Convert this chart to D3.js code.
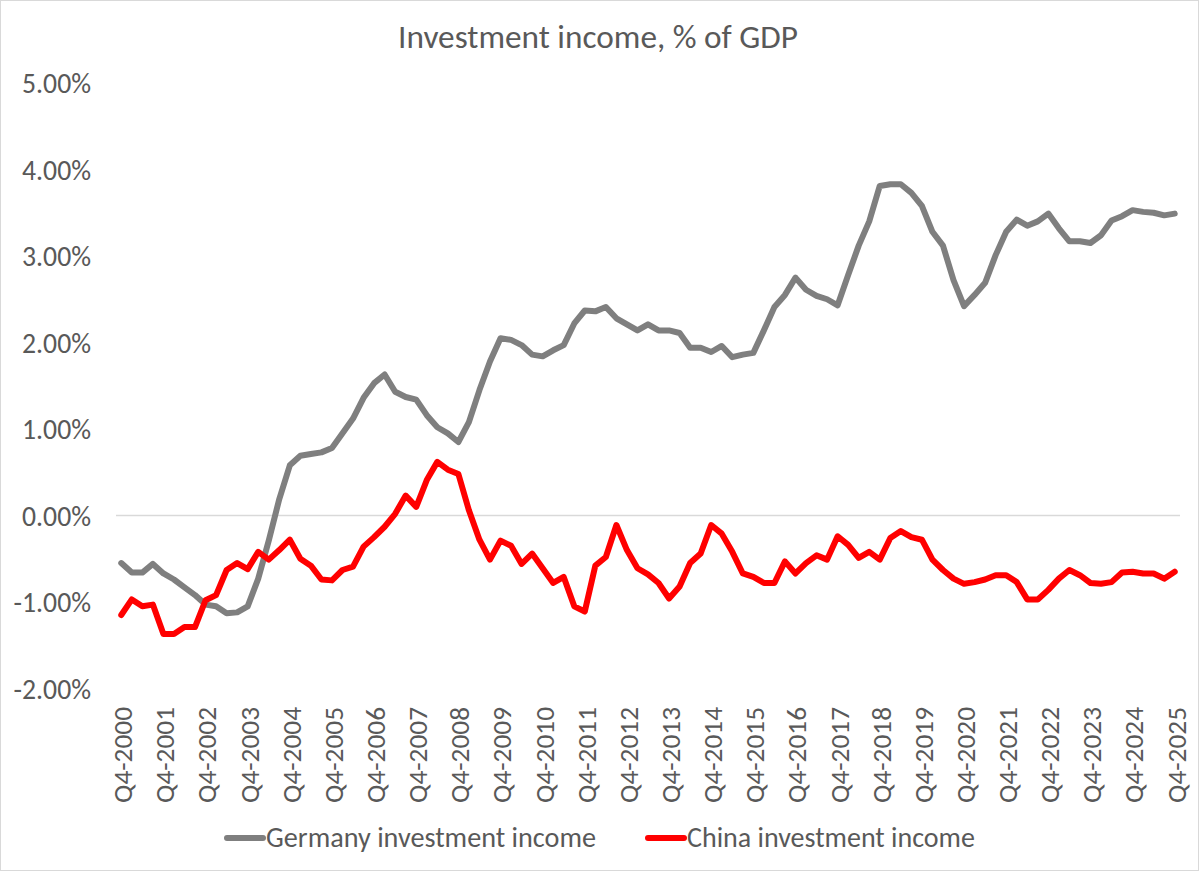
<!DOCTYPE html>
<html>
<head>
<meta charset="utf-8">
<script src="https://cdn.jsdelivr.net/npm/d3@7/dist/d3.min.js"></script>
<style>
  html, body { margin: 0; padding: 0; background: #fff; }
  svg { display: block; }
  text { font-family: Carlito, Calibri, Lato, sans-serif; fill: #595959; }
</style>
</head>
<body>
<svg id="chart" width="1200" height="872"></svg>
<script>
// ---- Data ----
const titleText = "Investment income, % of GDP";
const seriesNames = ["Germany investment income", "China investment income"];
const seriesColors = ["#7f7f7f", "#ff0000"];

// Quarterly categories Q4-2000 ... Q4-2025
const categories = [];
for (let yr = 2000; yr <= 2025; yr++) {
  for (let q = 1; q <= 4; q++) {
    if (yr === 2000 && q < 4) continue;
    categories.push("Q" + q + "-" + yr);
  }
}
const tickLabels = categories.filter(c => c.startsWith("Q4-"));
const yTicks = [-2, -1, 0, 1, 2, 3, 4, 5];

// Values in % of GDP
const germany = [
  -0.55, -0.66, -0.66, -0.56, -0.67, -0.74, -0.83, -0.92, -1.03, -1.05,
  -1.13, -1.12, -1.05, -0.73, -0.29, 0.19, 0.58, 0.69, 0.71, 0.73,
  0.78, 0.95, 1.12, 1.36, 1.53, 1.63, 1.43, 1.37, 1.34, 1.16,
  1.02, 0.95, 0.85, 1.08, 1.45, 1.78, 2.05, 2.03, 1.97, 1.86,
  1.84, 1.91, 1.97, 2.22, 2.37, 2.36, 2.41, 2.28, 2.21, 2.14,
  2.21, 2.14, 2.14, 2.11, 1.94, 1.94, 1.89, 1.96, 1.83, 1.86,
  1.88, 2.14, 2.41, 2.55, 2.75, 2.61, 2.54, 2.50, 2.43, 2.78,
  3.12, 3.40, 3.81, 3.83, 3.83, 3.73, 3.58, 3.28, 3.12, 2.72,
  2.42, 2.55, 2.69, 3.01, 3.28, 3.42, 3.35, 3.40, 3.49, 3.32,
  3.17, 3.17, 3.15, 3.24, 3.41, 3.46, 3.53, 3.51, 3.50, 3.47,
  3.49
];
const china = [
  -1.15, -0.97, -1.05, -1.03, -1.37, -1.37, -1.29, -1.29, -0.98, -0.92,
  -0.63, -0.55, -0.62, -0.42, -0.51, -0.40, -0.28, -0.50, -0.58, -0.74,
  -0.75, -0.63, -0.59, -0.36, -0.25, -0.13, 0.02, 0.23, 0.10, 0.41,
  0.62, 0.53, 0.48, 0.06, -0.28, -0.51, -0.29, -0.35, -0.56, -0.44,
  -0.61, -0.78, -0.71, -1.05, -1.11, -0.58, -0.48, -0.11, -0.40, -0.61,
  -0.68, -0.78, -0.96, -0.82, -0.55, -0.44, -0.11, -0.21, -0.42, -0.67,
  -0.71, -0.78, -0.78, -0.53, -0.67, -0.55, -0.46, -0.51, -0.24, -0.34,
  -0.49, -0.42, -0.51, -0.26, -0.18, -0.25, -0.28, -0.51, -0.63, -0.73,
  -0.79, -0.77, -0.74, -0.69, -0.69, -0.77, -0.97, -0.97, -0.86, -0.73,
  -0.63, -0.69, -0.78, -0.79, -0.77, -0.66, -0.65, -0.67, -0.67, -0.73,
  -0.65
];
const seriesValues = [germany, china];

// ---- Layout ----
const svg = d3.select("#chart");
const W = 1200, H = 872;
const plot = { left: 116, right: 1180, top: 83, bottom: 688.5 };

svg.append("rect")
  .attr("x", 0.5).attr("y", 0.5).attr("width", W - 2).attr("height", H - 2)
  .attr("fill", "#fff").attr("stroke", "#d9d9d9").attr("stroke-width", 1);

const x = d3.scalePoint().domain(categories).range([plot.left, plot.right]).padding(0.5);
const y = d3.scaleLinear().domain([-2, 5]).range([plot.bottom, plot.top]);

// Fit a text element's font size so its rendered width matches a target width
function fitText(sel, targetWidth) {
  const node = sel.node();
  sel.style("font-size", "20px");
  const w = node.getComputedTextLength();
  if (w > 0) sel.style("font-size", (20 * targetWidth / w).toFixed(2) + "px");
  return sel;
}

// Title
const title = svg.append("text")
  .attr("x", 598).attr("y", 48)
  .attr("text-anchor", "middle")
  .text(titleText);
fitText(title, 400);

// Y axis (labels only)
const yAxis = d3.axisLeft(y).tickValues(yTicks).tickSize(0).tickPadding(0)
  .tickFormat(d => d.toFixed(2) + "%");
const yg = svg.append("g").attr("transform", "translate(91,0)").call(yAxis);
yg.select(".domain").remove();
const probeY = yg.selectAll(".tick text").filter(d => d === 5);
probeY.style("font-family", null);
let yFont = 27;
{
  const n = probeY.node();
  n.style.fontSize = "20px";
  const w = n.getComputedTextLength();
  yFont = 20 * 69 / w;
}
yg.selectAll(".tick text")
  .attr("fill", "#595959")
  .style("font-size", yFont.toFixed(2) + "px")
  .style("font-family", "Carlito, Calibri, Lato, sans-serif")
  .attr("dy", "0.35em");

// Zero line (category axis)
svg.append("line")
  .attr("x1", plot.left).attr("x2", plot.right)
  .attr("y1", y(0)).attr("y2", y(0))
  .attr("stroke", "#d9d9d9").attr("stroke-width", 1.5);

// X axis labels (rotated), placed at bottom
const xAxis = d3.axisBottom(x).tickValues(tickLabels).tickSize(0).tickPadding(0);
const xg = svg.append("g").attr("transform", "translate(0,707)").call(xAxis);
xg.select(".domain").remove();
let xFont = 27;
{
  const n = xg.selectAll(".tick text").node();
  n.style.fontSize = "20px";
  n.style.fontFamily = "Carlito, Calibri, Lato, sans-serif";
  const w = n.getComputedTextLength();
  xFont = 20 * 96 / w;
}
xg.selectAll(".tick text")
  .attr("fill", "#595959")
  .style("font-size", xFont.toFixed(2) + "px")
  .style("font-family", "Carlito, Calibri, Lato, sans-serif")
  .attr("text-anchor", "end")
  .attr("transform", "rotate(-90)")
  .attr("x", 0).attr("y", 0)
  .attr("dx", 0)
  .attr("dy", "0.38em");

// Lines
const line = d3.line()
  .x((d, i) => x(categories[i]))
  .y(d => y(d));

seriesValues.forEach((vals, k) => {
  svg.append("path")
    .datum(vals)
    .attr("fill", "none")
    .attr("stroke", seriesColors[k])
    .attr("stroke-width", 6)
    .attr("stroke-linejoin", "round")
    .attr("stroke-linecap", "round")
    .attr("d", line);
});

// Legend
const legendItems = [
  { x1: 227, x2: 263, tx: 266, w: 330 },
  { x1: 648, x2: 684, tx: 687, w: 288 }
];
legendItems.forEach((it, k) => {
  svg.append("line")
    .attr("x1", it.x1).attr("x2", it.x2)
    .attr("y1", 838).attr("y2", 838)
    .attr("stroke", seriesColors[k]).attr("stroke-width", 6)
    .attr("stroke-linecap", "round");
  const t = svg.append("text")
    .attr("x", it.tx).attr("y", 847)
    .text(seriesNames[k]);
  fitText(t, it.w);
});
</script>
</body>
</html>
